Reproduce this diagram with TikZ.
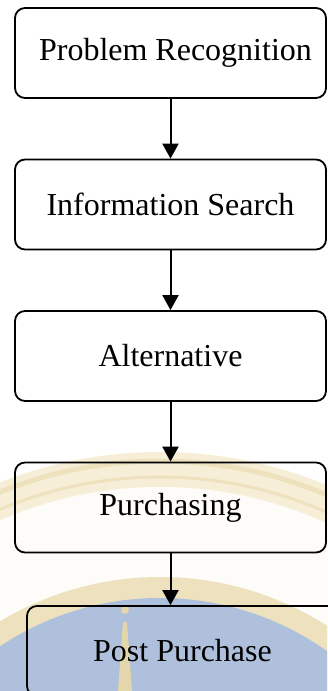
\documentclass[tikz,border=0pt]{standalone}
\usepackage{fontspec}
\setmainfont{Liberation Serif}
\usetikzlibrary{arrows.meta}

\definecolor{sealgold}{RGB}{246,238,214}
\definecolor{sealring}{RGB}{238,226,190}
\definecolor{sealblue}{RGB}{174,192,220}
\definecolor{sealtorch}{RGB}{226,214,170}

\begin{document}
\begin{tikzpicture}[x=1pt,y=-1pt,->,>={Triangle[width=16pt,length=15pt]},
                    node distance=151.5pt]
  \tikzstyle{stage}=[draw,rounded corners=10pt,minimum width=311pt,minimum height=90pt,
                     line width=1.8pt,text=black,font=\fontsize{32}{38}\selectfont]
  \tikzstyle{every edge}=[draw,line width=2pt]
  \useasboundingbox (0,0) rectangle (327,691);

  % faint seal in the background
  \begin{scope}[-]
    \clip (0,0) rectangle (327,691);
    \fill[sealgold] (160,887) circle (435pt);
    \draw[sealring,line width=5pt] (160,887) circle (426pt);
    \draw[sealring,line width=3pt] (160,887) circle (410pt);
    \fill[white!85!sealgold] (160,887) circle (400pt);
    \fill[sealring] (160,887) circle (310pt);
    \fill[sealblue] (160,887) circle (289pt);
    \fill[sealtorch] (125,610) circle (4pt);
    \fill[sealtorch] (123,622) -- (127,622) -- (132,691) -- (118,691) -- cycle;
  \end{scope}

  \node[stage] (A) at (170.5,53)  {\hspace{10pt}Problem Recognition};
  \node[stage] (B) [below of=A]   {Information Search};
  \node[stage] (C) [below of=B]   {Alternative};
  \node[stage] (D) [below of=C]   {Purchasing};
  \node[stage] (E) [below of=D, node distance=143.5pt, xshift=12pt] {Post Purchase};

  \path (A) edge (B)
        (B) edge (C)
        (C) edge (D)
        (D.south) edge (D.south |- E.north);
\end{tikzpicture}
\end{document}
